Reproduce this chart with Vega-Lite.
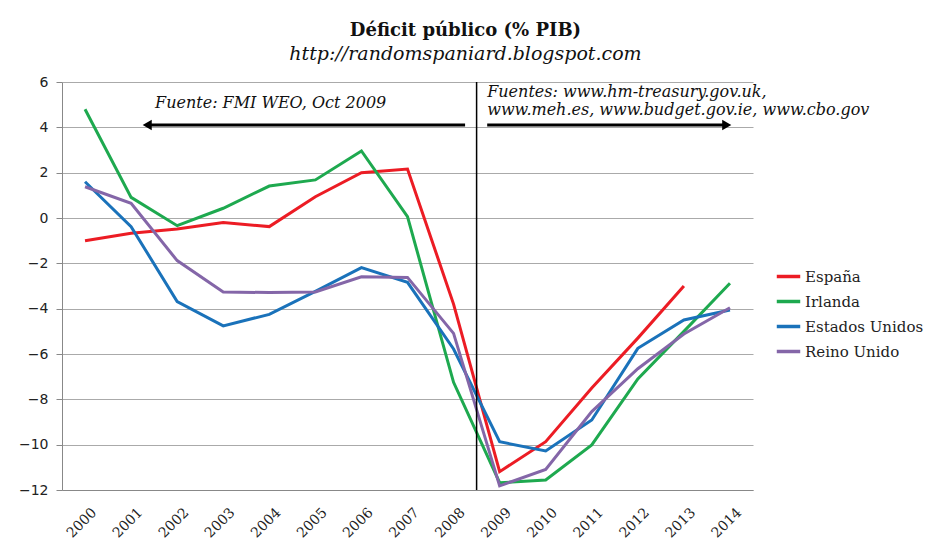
{
  "$schema": "https://vega.github.io/schema/vega-lite/v6.json",
  "width": 691,
  "height": 408,
  "autosize": "none",
  "padding": {"left": 62, "top": 82, "right": 175, "bottom": 60},
  "background": "white",
  "title": {
    "text": "Déficit público (% PIB)",
    "subtitle": "http://randomspaniard.blogspot.com",
    "font": "DejaVu Serif",
    "fontSize": 18,
    "fontWeight": "bold",
    "color": "#111",
    "subtitleFont": "DejaVu Serif",
    "subtitleFontSize": 19,
    "subtitleFontStyle": "italic",
    "subtitleColor": "#111",
    "subtitlePadding": 5,
    "anchor": "middle",
    "dx": 58,
    "offset": 11
  },
  "config": {
    "view": {"stroke": null},
    "axis": {
      "labelFont": "DejaVu Sans",
      "labelFontSize": 13,
      "labelColor": "#222",
      "domainColor": "#888",
      "tickColor": "#888",
      "gridColor": "#aaa",
      "titleFont": "DejaVu Sans"
    }
  },
  "layer": [
    {
      "data": {
        "values": [
          {"year": 2000, "country": "España", "value": -1.0},
          {"year": 2001, "country": "España", "value": -0.67},
          {"year": 2002, "country": "España", "value": -0.49},
          {"year": 2003, "country": "España", "value": -0.2},
          {"year": 2004, "country": "España", "value": -0.38},
          {"year": 2005, "country": "España", "value": 0.94},
          {"year": 2006, "country": "España", "value": 2.0},
          {"year": 2007, "country": "España", "value": 2.16},
          {"year": 2008, "country": "España", "value": -3.8},
          {"year": 2009, "country": "España", "value": -11.19},
          {"year": 2010, "country": "España", "value": -9.87},
          {"year": 2011, "country": "España", "value": -7.5},
          {"year": 2012, "country": "España", "value": -5.3},
          {"year": 2013, "country": "España", "value": -3.0},
          {"year": 2000, "country": "Irlanda", "value": 4.8},
          {"year": 2001, "country": "Irlanda", "value": 0.91},
          {"year": 2002, "country": "Irlanda", "value": -0.34},
          {"year": 2003, "country": "Irlanda", "value": 0.43},
          {"year": 2004, "country": "Irlanda", "value": 1.41},
          {"year": 2005, "country": "Irlanda", "value": 1.68},
          {"year": 2006, "country": "Irlanda", "value": 2.96},
          {"year": 2007, "country": "Irlanda", "value": 0.06},
          {"year": 2008, "country": "Irlanda", "value": -7.25},
          {"year": 2009, "country": "Irlanda", "value": -11.68},
          {"year": 2010, "country": "Irlanda", "value": -11.56},
          {"year": 2011, "country": "Irlanda", "value": -10.01},
          {"year": 2012, "country": "Irlanda", "value": -7.1},
          {"year": 2013, "country": "Irlanda", "value": -5.0},
          {"year": 2014, "country": "Irlanda", "value": -2.88},
          {"year": 2000, "country": "Estados Unidos", "value": 1.6},
          {"year": 2001, "country": "Estados Unidos", "value": -0.38},
          {"year": 2002, "country": "Estados Unidos", "value": -3.69},
          {"year": 2003, "country": "Estados Unidos", "value": -4.76},
          {"year": 2004, "country": "Estados Unidos", "value": -4.25},
          {"year": 2005, "country": "Estados Unidos", "value": -3.24},
          {"year": 2006, "country": "Estados Unidos", "value": -2.19},
          {"year": 2007, "country": "Estados Unidos", "value": -2.84},
          {"year": 2008, "country": "Estados Unidos", "value": -5.78},
          {"year": 2009, "country": "Estados Unidos", "value": -9.87},
          {"year": 2010, "country": "Estados Unidos", "value": -10.28},
          {"year": 2011, "country": "Estados Unidos", "value": -8.91},
          {"year": 2012, "country": "Estados Unidos", "value": -5.75},
          {"year": 2013, "country": "Estados Unidos", "value": -4.5},
          {"year": 2014, "country": "Estados Unidos", "value": -4.06},
          {"year": 2000, "country": "Reino Unido", "value": 1.38},
          {"year": 2001, "country": "Reino Unido", "value": 0.65},
          {"year": 2002, "country": "Reino Unido", "value": -1.88},
          {"year": 2003, "country": "Reino Unido", "value": -3.26},
          {"year": 2004, "country": "Reino Unido", "value": -3.29},
          {"year": 2005, "country": "Reino Unido", "value": -3.26},
          {"year": 2006, "country": "Reino Unido", "value": -2.59},
          {"year": 2007, "country": "Reino Unido", "value": -2.62},
          {"year": 2008, "country": "Reino Unido", "value": -5.09},
          {"year": 2009, "country": "Reino Unido", "value": -11.82},
          {"year": 2010, "country": "Reino Unido", "value": -11.09},
          {"year": 2011, "country": "Reino Unido", "value": -8.54},
          {"year": 2012, "country": "Reino Unido", "value": -6.65},
          {"year": 2013, "country": "Reino Unido", "value": -5.12},
          {"year": 2014, "country": "Reino Unido", "value": -3.96}
        ]
      },
      "mark": {"type": "line", "strokeWidth": 3, "clip": true},
      "encoding": {
        "x": {
          "field": "year",
          "type": "quantitative",
          "scale": {"domain": [1999.5, 2014.5], "nice": false, "zero": false},
          "axis": {
            "title": null,
            "values": [2000, 2001, 2002, 2003, 2004, 2005, 2006, 2007, 2008, 2009, 2010, 2011, 2012, 2013, 2014],
            "format": "d",
            "labelAngle": -45,
            "labelAlign": "right",
            "labelBaseline": "middle",
            "labelPadding": 20,
            "labelOffset": 9,
            "labelFont": "DejaVu Serif",
            "labelFontSize": 14,
            "ticks": false,
            "grid": false,
            "labelFlush": false,
            "labelOverlap": false
          }
        },
        "y": {
          "field": "value",
          "type": "quantitative",
          "scale": {"domain": [-12, 6], "nice": false},
          "axis": {
            "title": null,
            "values": [-12, -10, -8, -6, -4, -2, 0, 2, 4, 6],
            "tickSize": 6,
            "labelPadding": 8,
            "labelFontSize": 14,
            "grid": true
          }
        },
        "color": {
          "field": "country",
          "type": "nominal",
          "scale": {
            "domain": ["España", "Irlanda", "Estados Unidos", "Reino Unido"],
            "range": ["#ec1c24", "#1ea94f", "#1a72ba", "#8466a8"]
          },
          "legend": {
            "title": null,
            "orient": "none",
            "legendX": 713,
            "legendY": 181,
            "symbolType": "stroke",
            "symbolStrokeWidth": 3.5,
            "symbolSize": 550,
            "labelFont": "DejaVu Serif",
            "labelFontSize": 15,
            "labelColor": "#222",
            "rowPadding": 3,
            "labelOffset": 3
          }
        }
      }
    },
    {
      "data": {"values": [{"x": 2008.5, "y1": -12, "y2": 6}]},
      "mark": {"type": "rule", "color": "#000", "strokeWidth": 1.5},
      "encoding": {
        "x": {"field": "x", "type": "quantitative"},
        "y": {"field": "y1", "type": "quantitative"},
        "y2": {"field": "y2"}
      }
    },
    {
      "data": {"values": [{"x1": 2001.4, "x2": 2008.25, "y": 4.1}, {"x1": 2008.73, "x2": 2013.85, "y": 4.1}]},
      "mark": {"type": "rule", "color": "#000", "strokeWidth": 3},
      "encoding": {
        "x": {"field": "x1", "type": "quantitative"},
        "x2": {"field": "x2"},
        "y": {"field": "y", "type": "quantitative"}
      }
    },
    {
      "data": {"values": [{"x": 2001.35, "y": 4.1, "shape": "triangle-left"}, {"x": 2013.93, "y": 4.1, "shape": "triangle-right"}]},
      "mark": {"type": "point", "filled": true, "color": "#000", "opacity": 1, "size": 110},
      "encoding": {
        "x": {"field": "x", "type": "quantitative"},
        "y": {"field": "y", "type": "quantitative"},
        "shape": {"field": "shape", "type": "nominal", "scale": null, "legend": null}
      }
    },
    {
      "data": {"values": [
        {"x": 2001.52, "y": 5.07, "t": "Fuente: FMI WEO, Oct 2009"},
        {"x": 2008.73, "y": 5.55, "t": "Fuentes: www.hm-treasury.gov.uk,"},
        {"x": 2008.73, "y": 4.75, "t": "www.meh.es, www.budget.gov.ie, www.cbo.gov"}
      ]},
      "mark": {"type": "text", "align": "left", "baseline": "middle", "font": "DejaVu Serif", "fontStyle": "italic", "fontSize": 16, "color": "#111"},
      "encoding": {
        "x": {"field": "x", "type": "quantitative"},
        "y": {"field": "y", "type": "quantitative"},
        "text": {"field": "t"}
      }
    }
  ]
}
